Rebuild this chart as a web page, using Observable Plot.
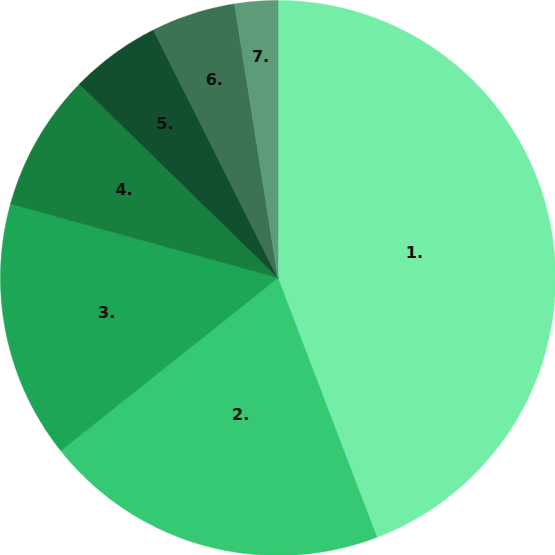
<!DOCTYPE html>
<html><head><meta charset="utf-8">
<script src="https://cdn.jsdelivr.net/npm/d3@7"></script>
<script src="https://cdn.jsdelivr.net/npm/@observablehq/plot@0.6"></script>
<style>body{margin:0;background:#fff}</style>
</head><body><div id="chart"></div>
<script>
const labels = ["1.", "2.", "3.", "4.", "5.", "6.", "7."];
const values = [44.2, 20.1, 15.0, 8.0, 5.3, 4.9, 2.5];
const colors = ["#74EEA6", "#34C972", "#1DA656", "#17803F", "#124F2E", "#3B7353", "#5E9C79"];

const W = 555, R = 277.5;
const pie = d3.pie().sort(null).value(d => d)(values);
const labelFrac = [0.5, 0.51, 0.63, 0.64, 0.69, 0.75, 0.8];

const poly = [];
pie.forEach((a, i) => {
  poly.push({k: labels[i], x: 0, y: 0});
  const n = Math.max(4, Math.ceil((a.endAngle - a.startAngle) * 120));
  for (let j = 0; j <= n; j++) {
    const t = a.startAngle + (a.endAngle - a.startAngle) * j / n;
    poly.push({k: labels[i], x: Math.sin(t), y: Math.cos(t)});
  }
  poly.push({k: labels[i], x: 0, y: 0});
});
const lab = pie.map((a, i) => {
  const t = (a.startAngle + a.endAngle) / 2;
  return {k: labels[i], x: labelFrac[i] * Math.sin(t), y: labelFrac[i] * Math.cos(t)};
});

const chart = Plot.plot({
  width: W, height: W, margin: 0,
  x: {domain: [-1, 1], axis: null},
  y: {domain: [-1, 1], axis: null},
  color: {domain: labels, range: colors},
  marks: [
    Plot.line(poly, {x: "x", y: "y", z: "k", fill: "k", stroke: "k", strokeWidth: 0.5, curve: "linear"}),
    Plot.text(lab, {x: "x", y: "y", text: "k", fill: "#111", fontSize: 16, fontWeight: "bold", fontFamily: "DejaVu Sans"})
  ]
});
document.getElementById("chart").appendChild(chart);
</script></body></html>
